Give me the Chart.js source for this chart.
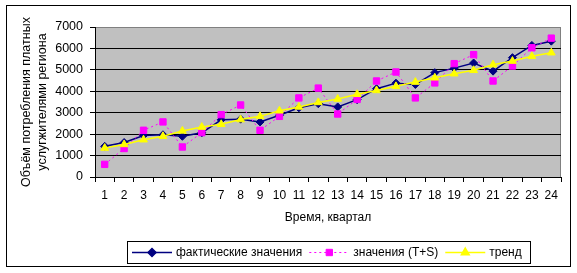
<!DOCTYPE html>
<html>
<head>
<meta charset="utf-8">
<script src="https://cdn.jsdelivr.net/npm/chart.js@4.4.1/dist/chart.umd.min.js"></script>
<style>
    html, body { margin: 0; padding: 0; background: #fff; }
    #chart { display: block; }
</style>
</head>
<body>
<canvas id="chart" width="577" height="273"></canvas>
<script>
// Chart data
let quarters = ['1', '2', '3', '4', '5', '6', '7', '8', '9', '10', '11', '12',
                '13', '14', '15', '16', '17', '18', '19', '20', '21', '22', '23', '24'];
let factValues = [1430, 1610, 1940, 1970, 1900, 2060, 2670, 2700, 2570, 2880, 3230, 3420,
                  3270, 3610, 4120, 4380, 4320, 4870, 5080, 5320, 4940, 5570, 6140, 6340];
let tsValues = [590, 1330, 2180, 2570, 1400, 2070, 2910, 3360, 2180, 2830, 3690, 4150,
                2940, 3620, 4480, 4900, 3690, 4390, 5290, 5710, 4480, 5180, 6030, 6480];
let trendValues = [1350, 1520, 1740, 1900, 2150, 2330, 2460, 2680, 2830, 3090, 3270, 3480,
                   3640, 3860, 4040, 4230, 4430, 4630, 4820, 4980, 5240, 5410, 5630, 5800];
let yMax = 7000;
let yStep = 1000;

Chart.defaults.font.family = "'Liberation Sans', Arial, sans-serif";
Chart.defaults.font.size = 12;
Chart.defaults.color = '#000';

// Grey plot area and outer frame, like the spreadsheet chart
const plotBackground = {
    id: 'plotBackground',
    beforeDraw(chart) {
        const ctx = chart.ctx;
        const a = chart.chartArea;
        ctx.save();
        ctx.fillStyle = '#fff';
        ctx.fillRect(0, 0, chart.width, chart.height);
        ctx.strokeStyle = '#000';
        ctx.lineWidth = 1;
        ctx.strokeRect(6.5, 5.5, 564, 261);
        ctx.fillStyle = '#c0c0c0';
        ctx.fillRect(a.left, a.top, a.right - a.left, a.bottom - a.top);
        ctx.strokeStyle = '#808080';
        ctx.strokeRect(a.left + 0.5, a.top + 0.5, a.right - a.left - 1, a.bottom - a.top);
        ctx.restore();
    }
};

// Legend with line + marker samples inside a bordered box
const boxLegend = {
    id: 'boxLegend',
    afterDraw(chart) {
        const ctx = chart.ctx;
        const a = chart.chartArea;
        const sampleW = 40, gap = 4, spacing = 7, padL = 5, padR = 8;
        const boxY = 241, boxH = 22;
        ctx.save();
        ctx.font = "12px 'Liberation Sans', Arial, sans-serif";
        const items = chart.data.datasets.map(ds => ({ ds: ds, w: ctx.measureText(ds.label).width }));
        let total = padL + padR;
        items.forEach((it, i) => {
            total += sampleW + gap + it.w + (i < items.length - 1 ? spacing : 0);
        });
        const boxX = Math.round((a.left + a.right) / 2 - total / 2);
        ctx.fillStyle = '#fff';
        ctx.fillRect(boxX, boxY, total, boxH);
        ctx.strokeStyle = '#000';
        ctx.lineWidth = 1;
        ctx.strokeRect(boxX + 0.5, boxY + 0.5, Math.round(total), boxH);

        const cy = boxY + boxH / 2 + 0.5;
        let x = boxX + padL;
        items.forEach(it => {
            const ds = it.ds;
            ctx.beginPath();
            ctx.strokeStyle = ds.borderColor;
            ctx.lineWidth = ds.borderWidth;
            ctx.setLineDash(ds.borderDash || []);
            ctx.moveTo(x, cy);
            ctx.lineTo(x + sampleW, cy);
            ctx.stroke();
            ctx.setLineDash([]);
            ctx.fillStyle = ds.pointBackgroundColor;
            ctx.strokeStyle = ds.pointBorderColor;
            Chart.helpers.drawPoint(ctx, {
                pointStyle: ds.pointStyle,
                radius: ds.pointRadius,
                rotation: 0,
                borderWidth: 1
            }, x + sampleW / 2, cy);
            ctx.fillStyle = '#000';
            ctx.textBaseline = 'middle';
            ctx.textAlign = 'left';
            ctx.fillText(ds.label, x + sampleW + gap, cy);
            x += sampleW + gap + it.w + spacing;
        });
        ctx.restore();
    }
};

let ctx = document.getElementById('chart').getContext('2d');
new Chart(ctx, {
    type: 'line',
    data: {
        labels: quarters,
        datasets: [
            {
                label: 'фактические значения',
                data: factValues,
                borderColor: '#000080',
                borderWidth: 1.5,
                pointStyle: 'rectRot',
                pointRadius: 4,
                pointBackgroundColor: '#000080',
                pointBorderColor: '#000080',
                pointBorderWidth: 1,
                order: 2
            },
            {
                label: 'значения (T+S)',
                data: tsValues,
                borderColor: '#ff00ff',
                borderWidth: 1,
                borderDash: [2, 3],
                pointStyle: 'rect',
                pointRadius: 4.5,
                pointBackgroundColor: '#ff00ff',
                pointBorderColor: '#ff00ff',
                pointBorderWidth: 1,
                order: 1
            },
            {
                label: 'тренд',
                data: trendValues,
                borderColor: '#ffff00',
                borderWidth: 1.5,
                pointStyle: 'triangle',
                pointRadius: 4.5,
                pointBackgroundColor: '#ffff00',
                pointBorderColor: '#ffff00',
                pointBorderWidth: 1,
                order: 0
            }
        ]
    },
    options: {
        responsive: false,
        animation: false,
        devicePixelRatio: 1,
        layout: {
            padding: { left: 10, right: 16, top: 27, bottom: 40 }
        },
        plugins: {
            legend: { display: false },
            tooltip: { enabled: false }
        },
        scales: {
            x: {
                offset: true,
                grid: {
                    display: true,
                    offset: true,
                    drawOnChartArea: false,
                    drawTicks: true,
                    tickLength: 5,
                    tickColor: '#000',
                    color: '#000'
                },
                border: { display: true, color: '#000' },
                ticks: { color: '#000', padding: 6, maxRotation: 0, autoSkip: false },
                title: {
                    display: true,
                    text: 'Время, квартал',
                    color: '#000',
                    padding: { top: 0, bottom: 8 }
                },
                afterFit: scale => { scale.height = 56; }
            },
            y: {
                min: 0,
                max: yMax,
                ticks: {
                    stepSize: yStep,
                    color: '#000',
                    padding: 7,
                    font: { size: 12.5 },
                    callback: value => String(value) // no thousands separator
                },
                grid: {
                    color: c => (c.tick && c.tick.value === yMax ? '#808080' : '#000'),
                    tickColor: '#000',
                    tickLength: 5,
                    drawTicks: true
                },
                border: { display: true, color: '#000' },
                title: {
                    display: true,
                    text: ['Объём потребления платных', 'услугжителями региона'],
                    color: '#000',
                    font: { size: 12.5, lineHeight: '16px' },
                    padding: { top: 9, bottom: 0 }
                },
                afterFit: scale => { scale.width = 85; }
            }
        }
    },
    plugins: [plotBackground, boxLegend]
});
</script>
</body>
</html>
